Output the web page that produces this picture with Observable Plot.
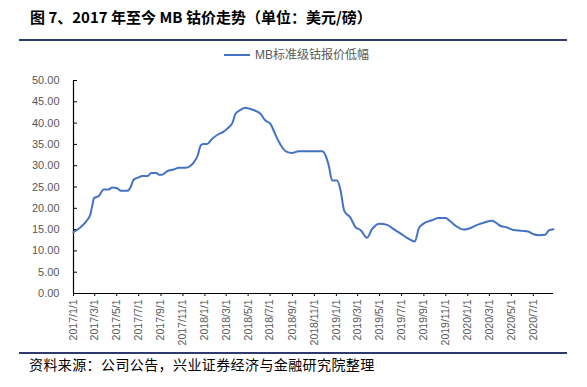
<!DOCTYPE html>
<html><head><meta charset="utf-8">
<script src="https://cdn.jsdelivr.net/npm/d3@7"></script>
<script src="https://cdn.jsdelivr.net/npm/@observablehq/plot@0.6"></script>
<style>
body{margin:0;background:#fff;}
#wrap{position:relative;width:587px;height:387px;overflow:hidden;font-family:"Noto Sans CJK SC","Noto Sans",sans-serif;background:#fff;}
#title{position:absolute;left:30px;top:6px;font-size:15px;font-weight:bold;line-height:22px;color:#000;white-space:nowrap;}
.rule{position:absolute;left:19px;width:548px;height:2px;background:#2e3a6b;}
#legend{position:absolute;left:224px;top:47px;height:16px;font-size:12px;line-height:16px;color:#595959;white-space:nowrap;font-family:"Liberation Sans","Noto Sans CJK SC",sans-serif;}
#legend .sw{display:inline-block;width:26px;height:2px;background:#4472C4;vertical-align:middle;margin-right:5px;position:relative;top:-1px;}
#chart{position:absolute;left:0;top:60px;}
#chart svg{overflow:visible;}
#caption{position:absolute;left:29px;top:354px;font-size:14px;line-height:20px;color:#000;white-space:nowrap;letter-spacing:0.4px;}
</style></head><body>
<div id="wrap">
  <div id="title">图 7、2017 年至今 MB 钴价走势（单位：美元/磅）</div>
  <div class="rule" style="top:39px"></div>
  <div id="legend"><span class="sw"></span><span>MB标准级钴报价低幅</span></div>
  <div id="chart"></div>
  <div class="rule" style="top:352px"></div>
  <div id="caption">资料来源：公司公告，兴业证券经济与金融研究院整理</div>
</div>
<script>
const dates = ["2017-01-01","2017-01-20","2017-02-03","2017-02-17","2017-02-22","2017-02-27","2017-03-12","2017-03-26","2017-04-09","2017-04-18","2017-05-02","2017-05-13","2017-05-30","2017-06-08","2017-06-17","2017-06-29","2017-07-11","2017-07-26","2017-08-05","2017-08-19","2017-08-26","2017-09-04","2017-09-18","2017-10-06","2017-10-20","2017-11-08","2017-11-22","2017-12-01","2017-12-12","2017-12-20","2017-12-27","2018-01-07","2018-01-21","2018-02-04","2018-02-22","2018-03-08","2018-03-18","2018-03-27","2018-04-10","2018-04-23","2018-05-07","2018-05-21","2018-06-04","2018-06-18","2018-07-02","2018-07-11","2018-07-19","2018-07-30","2018-08-15","2018-08-31","2018-09-18","2018-11-23","2018-12-02","2018-12-11","2018-12-20","2019-01-03","2019-01-12","2019-01-23","2019-02-09","2019-02-23","2019-03-09","2019-03-27","2019-04-10","2019-05-01","2019-05-22","2019-06-09","2019-07-03","2019-07-21","2019-08-07","2019-08-18","2019-08-31","2019-09-24","2019-10-12","2019-10-31","2019-11-14","2019-11-28","2019-12-21","2020-01-03","2020-01-27","2020-02-14","2020-03-08","2020-03-18","2020-03-31","2020-04-19","2020-05-07","2020-05-31","2020-06-18","2020-07-02","2020-07-16","2020-08-03","2020-08-13","2020-08-26"];
const prices = [14.4,15.5,16.7,18.6,20.6,22.4,22.9,24.4,24.4,24.9,24.7,24.1,24.1,24.9,26.7,27.2,27.6,27.6,28.3,28.3,27.9,27.9,28.7,29.1,29.5,29.5,30.0,30.8,32.4,34.7,35.1,35.1,36.3,37.2,38.0,39.0,40.0,42.2,43.1,43.6,43.3,42.9,42.2,40.6,39.8,38.2,36.7,34.9,33.3,33.0,33.4,33.4,32.4,30.0,26.6,26.5,24.5,19.4,17.8,15.6,14.9,13.1,15.1,16.4,16.1,15.1,13.8,12.8,12.2,15.3,16.4,17.2,17.7,17.7,16.9,15.9,15.0,15.2,16.1,16.6,17.1,16.7,15.9,15.5,14.9,14.7,14.5,13.9,13.7,13.8,14.8,15.1];
const yTicks = [0,5,10,15,20,25,30,35,40,45,50];
const xTickLabels = ["2017/1/1","2017/3/1","2017/5/1","2017/7/1","2017/9/1","2017/11/1","2018/1/1","2018/3/1","2018/5/1","2018/7/1","2018/9/1","2018/11/1","2019/1/1","2019/3/1","2019/5/1","2019/7/1","2019/9/1","2019/11/1","2020/1/1","2020/3/1","2020/5/1","2020/7/1"];
const xStart = "2017-01-01", xEnd = "2020-08-26";

const parse = s => new Date(s.replace(/\//g, "-").replace(/-(\d)(?=-|$)/g, "-0$1") + "T00:00:00Z");
const data = dates.map((d, i) => ({date: parse(d), v: prices[i]}));
const xTicks = xTickLabels.map(parse);
const labelOf = new Map(xTicks.map((d, i) => [+d, xTickLabels[i]]));
const x0 = parse(xStart), x1 = parse(xEnd);
const tickEnd = d3.utcDay.offset(x0, 11);

const chart = Plot.plot({
  width: 587, height: 288,
  marginTop: 20, marginBottom: 55, marginLeft: 73, marginRight: 34,
  style: {fontFamily: "'Liberation Sans', Arial, sans-serif", fontSize: "11px", color: "#595959", background: "transparent"},
  x: {type: "utc", domain: [x0, x1], label: null},
  y: {domain: [0, 50], label: null},
  marks: [
    Plot.axisY({ticks: yTicks, tickSize: 0, tickPadding: 14, tickFormat: d => d.toFixed(2), fontSize: 11, label: null}),
    Plot.axisX({ticks: xTicks, tickFormat: d => labelOf.get(+d), tickRotate: -90, tickSize: 3, tickPadding: 3, fontSize: 10.5, stroke: "#000", label: null}),
    Plot.ruleY(yTicks, {y: d => d, x1: () => x0, x2: () => tickEnd, stroke: "#000", strokeWidth: 1}),
    Plot.ruleY([0], {stroke: "#000", strokeWidth: 1}),
    Plot.ruleX([x0], {stroke: "#000", strokeWidth: 1.2}),
    Plot.lineY(data, {x: "date", y: "v", stroke: "#4472C4", strokeWidth: 2, curve: "monotone-x"})
  ]
});
document.getElementById("chart").appendChild(chart);
</script>
</body></html>
